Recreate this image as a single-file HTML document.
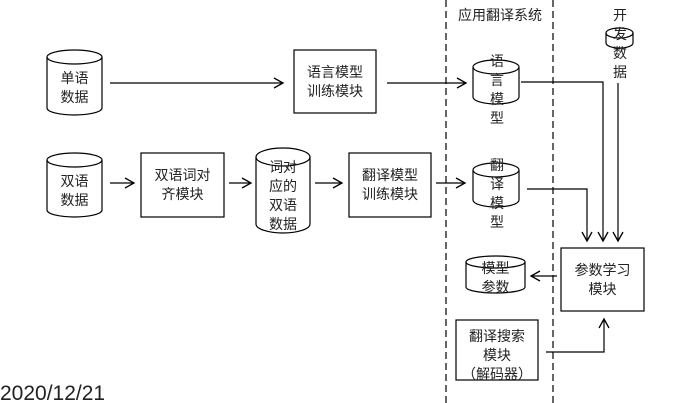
<!DOCTYPE html>
<html><head><meta charset="utf-8"><style>
html,body{margin:0;padding:0;background:#fff;}
svg{display:block;}
text{font-family:"Liberation Sans","Noto Sans CJK SC",sans-serif;font-size:14px;fill:#222;text-anchor:middle;}
</style></head><body>
<svg width="676" height="403" viewBox="0 0 676 403" xmlns="http://www.w3.org/2000/svg">
<defs>
<marker id="a" markerWidth="12" markerHeight="12" refX="10" refY="6" orient="auto" markerUnits="userSpaceOnUse">
<path d="M1,1 L10,6 L1,11" fill="none" stroke="#000" stroke-width="1.3"/>
</marker>
</defs>
<g fill="none" stroke="#000" stroke-width="1.2">
<!-- dashed -->
<line x1="446" y1="0" x2="446" y2="403" stroke-dasharray="7,4"/>
<line x1="553" y1="0" x2="553" y2="403" stroke-dasharray="7,4"/>
<!-- cylinders -->
<path d="M47,57 V108 A27.5,7 0 0 0 102,108 V57"/><ellipse cx="74.5" cy="57" rx="27.5" ry="7"/>
<path d="M47,160 V210 A27.5,7 0 0 0 102,210 V160"/><ellipse cx="74.5" cy="160" rx="27.5" ry="7"/>
<path d="M256,157 V224 A27,9 0 0 0 310,224 V157"/><ellipse cx="283" cy="157" rx="27" ry="9"/>
<path d="M473,67 V97 A23,7 0 0 0 519,97 V67"/><ellipse cx="496" cy="67" rx="23" ry="7"/>
<path d="M473,170 V200 A23,7 0 0 0 519,200 V170"/><ellipse cx="496" cy="170" rx="23" ry="7"/>
<path d="M466,262 V287 A29.5,6 0 0 0 525,287 V262"/><ellipse cx="495.5" cy="262" rx="29.5" ry="6"/>
<path d="M606,33 V43 A13.5,5 0 0 0 633,43 V33"/><ellipse cx="619.5" cy="33" rx="13.5" ry="5"/>
<!-- boxes -->
<rect x="294" y="50" width="82" height="63"/>
<rect x="141" y="153" width="83" height="64"/>
<rect x="349" y="153" width="82" height="64"/>
<rect x="561" y="248" width="83" height="63"/>
<rect x="456" y="320" width="82" height="60"/>
<!-- arrows -->
<line x1="110" y1="83" x2="283" y2="83" marker-end="url(#a)"/>
<line x1="387" y1="83" x2="466" y2="83" marker-end="url(#a)"/>
<line x1="110" y1="183" x2="134" y2="183" marker-end="url(#a)"/>
<line x1="229" y1="183" x2="251" y2="183" marker-end="url(#a)"/>
<line x1="315" y1="183" x2="342" y2="183" marker-end="url(#a)"/>
<line x1="436" y1="183" x2="465" y2="183" marker-end="url(#a)"/>
<polyline points="521,82 603,82 603,241" marker-end="url(#a)"/>
<line x1="618" y1="83" x2="618" y2="241" marker-end="url(#a)"/>
<polyline points="527,189 587,189 587,241" marker-end="url(#a)"/>
<line x1="557" y1="276" x2="531" y2="276" marker-end="url(#a)"/>
<polyline points="546,352 604,352 604,319" marker-end="url(#a)"/>
</g>
<text x="74.5" y="83">单语</text><text x="74.5" y="102">数据</text>
<text x="74.5" y="186">双语</text><text x="74.5" y="205">数据</text>
<text x="335" y="77">语言模型</text><text x="335" y="96">训练模块</text>
<text x="182.5" y="180">双语词对</text><text x="182.5" y="199">齐模块</text>
<text x="283" y="172">词对</text><text x="283" y="191">应的</text><text x="283" y="210">双语</text><text x="283" y="229">数据</text>
<text x="390" y="180">翻译模型</text><text x="390" y="199">训练模块</text>
<text x="500" y="20">应用翻译系统</text>
<text x="497" y="66">语</text><text x="497" y="85">言</text><text x="497" y="104">模</text><text x="497" y="123">型</text>
<text x="497" y="170">翻</text><text x="497" y="189">译</text><text x="497" y="208">模</text><text x="497" y="227">型</text>
<text x="495.5" y="273">模型</text><text x="495.5" y="292">参数</text>
<text x="620" y="20">开</text><text x="620" y="39">发</text><text x="620" y="58">数</text><text x="620" y="77">据</text>
<text x="602.5" y="275">参数学习</text><text x="602.5" y="294">模块</text>
<text x="497" y="341">翻译搜索</text><text x="497" y="360">模块</text><text x="497" y="379">（解码器）</text>
<text x="0" y="400" style="text-anchor:start;font-size:21px;">2020/12/21</text>
</svg>
</body></html>
